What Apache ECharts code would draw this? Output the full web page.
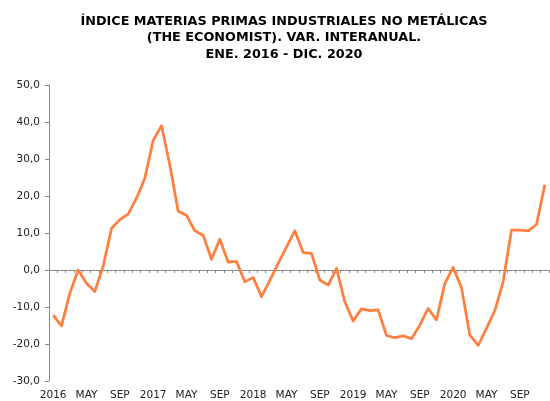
<!DOCTYPE html>
<html>
<head>
<meta charset="utf-8">
<style>
  html, body { margin: 0; padding: 0; background: #fff; }
  #chart { width: 550px; height: 401px; }
</style>
<script src="https://cdn.jsdelivr.net/npm/echarts@6/dist/echarts.min.js"></script>
</head>
<body>
<div id="chart"></div>
<script>
const years = [2016, 2017, 2018, 2019, 2020];
const months = ["ENE", "FEB", "MAR", "ABR", "MAY", "JUN", "JUL", "AGO", "SEP", "OCT", "NOV", "DIC"];

// Var. interanual (%), ene. 2016 - dic. 2020
const values2016 = [-12.2, -15.1, -6.3, 0.0, -3.6, -5.8, 1.0, 11.2, 13.6, 15.1, 19.4, 24.8];
const values2017 = [35.0, 39.0, 28.4, 15.9, 14.8, 10.6, 9.4, 2.9, 8.3, 2.1, 2.3, -3.2];
const values2018 = [-2.0, -7.2, -2.8, 1.8, 6.2, 10.6, 4.7, 4.5, -2.7, -4.1, 0.4, -8.6];
const values2019 = [-13.8, -10.5, -11.0, -10.8, -17.7, -18.3, -17.8, -18.6, -14.9, -10.4, -13.5, -3.6];
const values2020 = [0.7, -4.8, -17.6, -20.4, -15.8, -11.0, -3.2, 10.8, 10.8, 10.6, 12.3, 23.0];

const categories = years.flatMap((y) => months.map((m, i) => (i === 0 ? String(y) : m)));
const values = [...values2016, ...values2017, ...values2018, ...values2019, ...values2020];

const axisColor = "#888888";
const textColor = "#222222";
const font = "DejaVu Sans, Verdana, sans-serif";

const chart = echarts.init(document.getElementById("chart"), null, { renderer: "canvas" });

chart.setOption({
  animation: false,
  backgroundColor: "#ffffff",
  textStyle: { fontFamily: font },
  title: {
    text: "ÍNDICE MATERIAS PRIMAS INDUSTRIALES NO METÁLICAS\n(THE ECONOMIST). VAR. INTERANUAL.\nENE. 2016 - DIC. 2020",
    left: 279,
    textAlign: "center",
    top: 8,
    textStyle: {
      color: "#000000",
      fontFamily: font,
      fontSize: 12.8,
      fontWeight: "bold",
      lineHeight: 16.5
    }
  },
  grid: { left: 49, right: 1, top: 85, bottom: 20 },
  xAxis: [
    {
      type: "category",
      data: categories,
      position: "bottom",
      axisLine: { show: false, onZero: false },
      axisTick: { show: false },
      axisLabel: {
        interval: 3,
        color: textColor,
        fontSize: 10.5,
        fontFamily: font,
        margin: 9
      }
    },
    {
      type: "category",
      data: categories,
      position: "bottom",
      axisLine: { show: true, onZero: true, lineStyle: { color: axisColor, width: 1 } },
      axisTick: { show: true, interval: 0, length: 3, lineStyle: { color: axisColor } },
      axisLabel: { show: false }
    }
  ],
  yAxis: {
    type: "value",
    min: -30,
    max: 50,
    interval: 10,
    axisLine: { show: true, lineStyle: { color: axisColor, width: 1 } },
    axisTick: { show: true, length: 4, lineStyle: { color: axisColor } },
    splitLine: { show: false },
    axisLabel: {
      color: textColor,
      fontSize: 10.5,
      fontFamily: font,
      margin: 9,
      formatter: (v) => v.toFixed(1).replace(".", ",")
    }
  },
  series: [
    {
      type: "line",
      xAxisIndex: 0,
      data: values,
      symbol: "none",
      lineStyle: { color: "#FF7F3F", width: 2.75, join: "round" },
      itemStyle: { color: "#FF7F3F" }
    }
  ]
});
</script>
</body>
</html>
